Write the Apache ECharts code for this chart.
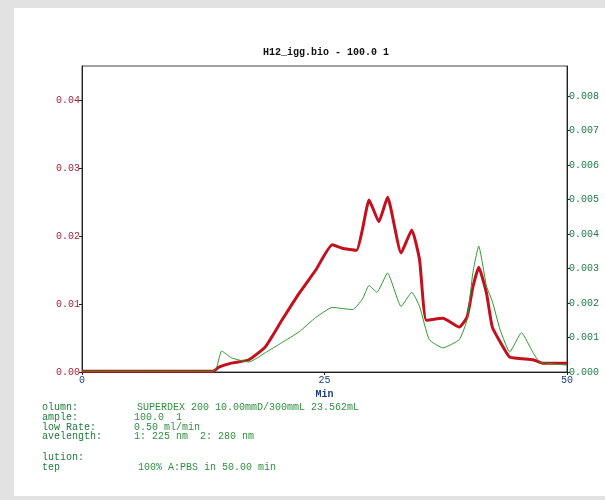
<!DOCTYPE html>
<html>
<head>
<meta charset="utf-8">
<title>H12_igg.bio</title>
<script src="https://cdn.jsdelivr.net/npm/echarts@6/dist/echarts.min.js"></script>
<style>
  html, body { margin: 0; padding: 0; background: #e2e2e2; }
  #paper { position: absolute; left: 14px; top: 8px; width: 591px; height: 488px; background: #fff; }
  #container { position: absolute; left: 0; top: 0; width: 605px; height: 500px; }
</style>
</head>
<body>
<div id="paper"></div>
<div id="container"></div>
<script>
  // x axis: minutes
  var xTicks = [0, 25, 50];
  var leftTicks = [0, 0.01, 0.02, 0.03, 0.04];
  var rightTicks = [0, 0.001, 0.002, 0.003, 0.004, 0.005, 0.006, 0.007, 0.008];

  // 225 nm trace (left axis), [min, AU]
  var trace225 = [
    [0, 0.0001], [13.5, 0.0001], [14.1, 0.0007], [15.4, 0.0013], [17.2, 0.0018],
    [18.9, 0.0037], [20.6, 0.0076], [22.4, 0.0116], [24.1, 0.0150], [25.8, 0.0187],
    [26.8, 0.0182], [28.3, 0.0179], [28.9, 0.0209], [29.6, 0.0253], [30.6, 0.0221],
    [31.5, 0.0257], [32.9, 0.0175], [34.0, 0.0209], [34.8, 0.0165], [35.5, 0.0076],
    [37.2, 0.0079], [38.9, 0.0066], [39.7, 0.0081], [40.3, 0.0125], [40.9, 0.0154],
    [41.7, 0.0116], [42.3, 0.0066], [43.4, 0.0037], [44.1, 0.0022], [46.5, 0.0018],
    [47.5, 0.0013], [50, 0.0013]
  ];

  // 280 nm trace (right axis), [min, AU]
  var trace280 = [
    [0, 0.00002], [13.5, 0.00002], [13.9, 0.00015], [14.4, 0.00061], [15.4, 0.00041],
    [17.2, 0.00029], [18.9, 0.00056], [20.6, 0.00085], [22.4, 0.00117], [24.1, 0.00158],
    [25.8, 0.00187], [27.9, 0.00181], [28.9, 0.00211], [29.6, 0.00251], [30.4, 0.00231],
    [31.5, 0.00287], [32.9, 0.00190], [34.0, 0.00231], [34.8, 0.00190], [35.8, 0.00094],
    [37.2, 0.00070], [38.9, 0.00094], [39.7, 0.00152], [40.3, 0.00289], [40.9, 0.00365],
    [41.7, 0.00249], [42.3, 0.00205], [43.1, 0.00123], [44.1, 0.00058], [45.3, 0.00114],
    [46.5, 0.00056], [47.2, 0.00029], [50, 0.00020]
  ];

  // run info printed under the plot
  var infoLabels = ['olumn:', 'ample:', 'low Rate:', 'avelength:', '', 'lution:', 'tep'];
  var infoValues = ['SUPERDEX 200 10.00mmD/300mmL 23.562mL', '100.0  1', '0.50 ml/min',
                    '1: 225 nm  2: 280 nm', '', '', '100% A:PBS in 50.00 min'];
  var infoRows = [408, 418, 428, 437, 447, 458, 468];

  var mono = '"Liberation Mono", "DejaVu Sans Mono", monospace';

  var graphic = [];
  infoLabels.forEach(function (t, i) {
    if (t) {
      graphic.push({ type: 'text', left: 42, top: infoRows[i] - 6,
        style: { text: t, font: '10px ' + mono, fill: '#1f7a3c' } });
    }
    if (infoValues[i]) {
      graphic.push({ type: 'text', left: i === 6 ? 138 : (i === 0 ? 137 : 134), top: infoRows[i] - 6,
        style: { text: infoValues[i], font: '10px ' + mono, fill: '#2f8f3f' } });
    }
  });

  var myChart = echarts.init(document.getElementById('container'));
  var option = {
    backgroundColor: 'transparent',
    animation: false,
    title: {
      text: 'H12_igg.bio - 100.0 1',
      left: 258,
      top: 42,
      textStyle: { fontFamily: mono, fontSize: 10, fontWeight: 'bold', color: '#111' }
    },
    graphic: graphic,
    grid: {
      left: 82, right: 38, top: 66, bottom: 128,
      show: true, borderColor: '#444', borderWidth: 1, backgroundColor: '#fff'
    },
    xAxis: {
      type: 'value', min: 0, max: 50, interval: 25,
      name: 'Min', nameLocation: 'middle', nameGap: 14,
      nameTextStyle: { fontFamily: mono, fontSize: 10, fontWeight: 'bold', color: '#1d3f7a' },
      axisLine: { lineStyle: { color: '#222', width: 1 } },
      axisTick: { length: 3, lineStyle: { color: '#222' } },
      axisLabel: { fontFamily: mono, fontSize: 10, color: '#1d3f7a', margin: 3 },
      splitLine: { show: false }
    },
    yAxis: [{
      type: 'value', min: 0, max: 0.045, position: 'left',
      axisLine: { show: true, lineStyle: { color: '#222' } },
      axisTick: { show: true, length: 3, customValues: leftTicks, lineStyle: { color: '#222' } },
      axisLabel: {
        fontFamily: mono, fontSize: 10, color: '#a3243a', margin: 2,
        customValues: leftTicks,
        formatter: function (v) { return v.toFixed(2); }
      },
      splitLine: { show: false }
    }, {
      type: 'value', min: 0, max: 0.00887, position: 'right',
      axisLine: { show: true, lineStyle: { color: '#222' } },
      axisTick: { show: true, length: 3, customValues: rightTicks, lineStyle: { color: '#222' } },
      axisLabel: {
        fontFamily: mono, fontSize: 10, color: '#1f7a4a', margin: 2,
        customValues: rightTicks,
        formatter: function (v) { return v.toFixed(3); }
      },
      splitLine: { show: false }
    }],
    series: [{
      name: '225 nm', type: 'line', yAxisIndex: 0, data: trace225,
      showSymbol: false, smooth: 0.15,
      lineStyle: { color: '#c4101c', width: 3 }
    }, {
      name: '280 nm', type: 'line', yAxisIndex: 1, data: trace280,
      showSymbol: false, smooth: 0.15,
      lineStyle: { color: '#2e9a2e', width: 1 }
    }]
  };
  myChart.setOption(option);
</script>
</body>
</html>
